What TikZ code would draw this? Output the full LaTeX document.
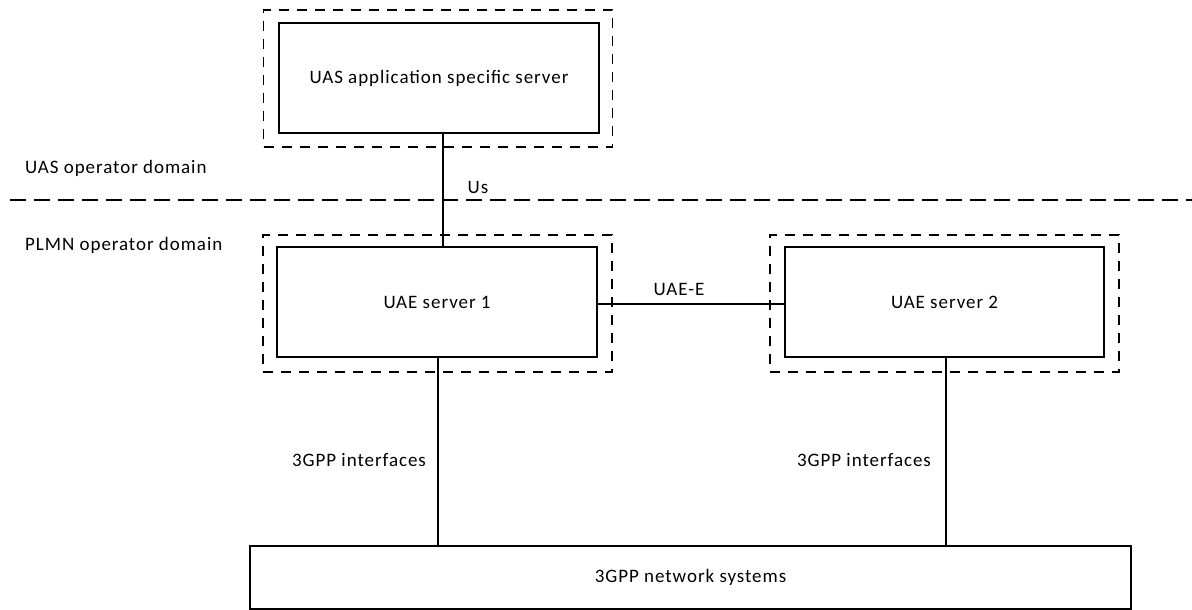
\documentclass[tikz,border=0pt]{standalone}
\usepackage{fontspec}
\setmainfont{Carlito}[LetterSpace=5]
\begin{document}
\begin{tikzpicture}[x=1pt,y=-1pt,
  every node/.style={font=\fontsize{19}{22}\selectfont, inner sep=0pt},
  srvbox/.style={draw, line width=1.4pt, rectangle, minimum width=#1, minimum height=110pt},
  outbox/.style={draw, line width=1.4pt, dash pattern=on 10pt off 8pt, rectangle, minimum width=349pt, minimum height=137pt},
  conn/.style={line width=1.5pt},
  lbl/.style={anchor=center}]
\useasboundingbox (0,0) rectangle (1192,610);
% outer dashed boxes
\node[outbox] (otop) at (438,78.5) {};
\node[outbox] (o1) at (437.5,303.5) {};
\node[outbox] (o2) at (944.5,303.5) {};
% inner boxes
\node[srvbox=320pt] (top) at (439,78) {UAS application specific server};
\node[srvbox=320pt] (uae1) at (437,302) {UAE server 1};
\node[srvbox=319pt] (uae2) at (944.5,302) {UAE server 2};
\node[draw, line width=1.4pt, rectangle, minimum width=881pt, minimum height=63pt] (net) at (690.5,577.5) {3GPP network systems};
% domain separator
\coordinate (dl) at (10,200);
\coordinate (dr) at (1192,200);
\draw[line width=1.8pt, dash pattern=on 16pt off 8pt] (dl) -- (dr);
\node[anchor=west] (uasdom) at (25,168) {UAS operator domain};
\node[anchor=west] (plmndom) at (25,245) {PLMN operator domain};
% connectors
\coordinate (usx) at (443,0);
\coordinate (ey) at (0,304);
\coordinate (g1) at (438,0);
\coordinate (g2) at (946,0);
\draw[conn] (top.south -| usx) -- (uae1.north -| usx);
\draw[conn] (uae1.east |- ey) -- (uae2.west |- ey);
\draw[conn] (uae1.south -| g1) -- (net.north -| g1);
\draw[conn] (uae2.south -| g2) -- (net.north -| g2);
% labels
\node[lbl] (us) at (478,187) {Us};
\node[lbl] (uaee) at (679,289) {UAE-E};
\node[lbl] (if1) at (359,460) {3GPP interfaces};
\node[lbl] (if2) at (864,460) {3GPP interfaces};
\end{tikzpicture}
\end{document}
